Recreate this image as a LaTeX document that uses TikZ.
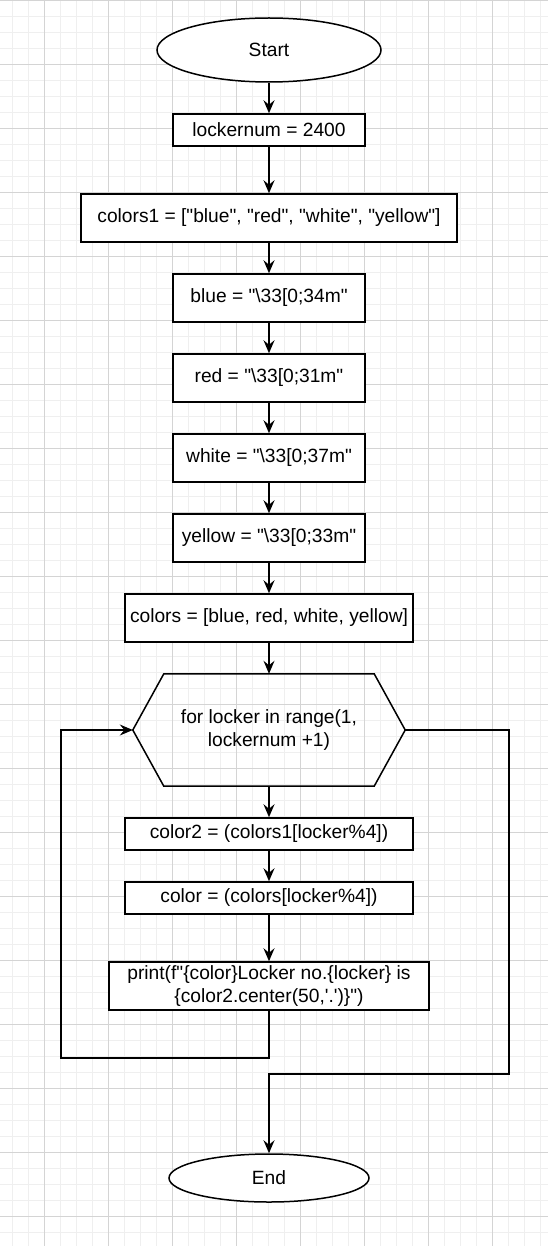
\documentclass[tikz,border=0pt]{standalone}
\usepackage{fontspec}
\setmainfont{Liberation Sans}[Ligatures=TeXOff]
\usetikzlibrary{arrows.meta,shapes.geometric}
\definecolor{gridminor}{HTML}{EFEFEF}
\definecolor{gridmajor}{HTML}{D4D4D4}
\begin{document}
\begin{tikzpicture}[x=1pt,y=-1pt,
  every node/.style={font=\fontsize{19.2}{23}\selectfont, align=center, inner sep=1pt},
  box/.style={draw, rectangle, line width=1.5pt, fill=white},
  term/.style={draw, ellipse, line width=1.5pt, fill=white},
  conn/.style={line width=1.5pt, -{Stealth[length=13pt,width=11pt,inset=4.5pt]}},
  wire/.style={line width=1.5pt}]
\useasboundingbox[fill=white] (0,0) rectangle (548,1246);
% grid
\foreach \k in {0,...,33} \draw[gridminor, line width=0.8pt] ({12.3+16*\k},0) -- ({12.3+16*\k},1246);
\foreach \k in {0,...,77} \draw[gridminor, line width=0.8pt] (0,{16*\k}) -- (548,{16*\k});
\foreach \k in {0,...,7} \draw[gridmajor, line width=0.8pt] ({44.3+64*\k},0) -- ({44.3+64*\k},1246);
\foreach \k in {0,...,19} \draw[gridmajor, line width=0.8pt] (0,{64*\k}) -- (548,{64*\k});
% nodes
\node[term, minimum width=224, minimum height=64] (start) at (269,50) {Start};
\node[box, minimum width=192, minimum height=32] (lockernum) at (269,130) {lockernum = 2400};
\node[box, minimum width=376, minimum height=48] (colorsone) at (269,218) {colors1 = ["blue", "red", "white", "yellow"]};
\node[box, minimum width=192, minimum height=48] (blue) at (269,298) {blue = "\textbackslash 33[0;34m"};
\node[box, minimum width=192, minimum height=48] (red) at (269,378) {red = "\textbackslash 33[0;31m"};
\node[box, minimum width=192, minimum height=48] (white) at (269,458) {white = "\textbackslash 33[0;37m"};
\node[box, minimum width=192, minimum height=48] (yellow) at (269,538) {yellow = "\textbackslash 33[0;33m"};
\node[box, minimum width=288, minimum height=48] (colors) at (269,618) {colors = [blue, red, white, yellow]};
\node[minimum width=272, minimum height=112] (hex) at (269,730) {for locker in range(1,\\lockernum +1)};
\draw[line width=1.5pt, line join=miter] ([xshift=31pt]hex.north west) -- ([xshift=-31pt]hex.north east) -- (hex.east) -- ([xshift=-31pt]hex.south east) -- ([xshift=31pt]hex.south west) -- (hex.west) -- cycle;
\node[box, minimum width=288, minimum height=32] (colortwo) at (269,834) {color2 = (colors1[locker\%4])};
\node[box, minimum width=288, minimum height=32] (color) at (269,898) {color = (colors[locker\%4])};
\node[box, minimum width=320, minimum height=48] (print) at (269,986) {print(f"\{color\}Locker no.\{locker\} is\\\{color2.center(50,\textquotesingle.\textquotesingle)\}")};
\node[term, minimum width=200, minimum height=48] (end) at (269,1178) {End};
% helper points
\coordinate (lb) at (61,1058);
\coordinate (lt) at (61,730);
\coordinate (rt) at (509,730);
\coordinate (rb) at (509,1074);
% connectors
\draw[conn] (start) -- (lockernum);
\draw[conn] (lockernum) -- (colorsone);
\draw[conn] (colorsone) -- (blue);
\draw[conn] (blue) -- (red);
\draw[conn] (red) -- (white);
\draw[conn] (white) -- (yellow);
\draw[conn] (yellow) -- (colors);
\draw[conn] (colors.south) -- (hex.north);
\draw[conn] (hex.south) -- (colortwo.north);
\draw[conn] (colortwo) -- (color);
\draw[conn] (color) -- (print);
\draw[conn] (print.south) |- (lb) -- (lt) -- (hex.west);
\draw[conn] (hex.east) -- (rt) -- (rb) -| (end.north);
\end{tikzpicture}
\end{document}
